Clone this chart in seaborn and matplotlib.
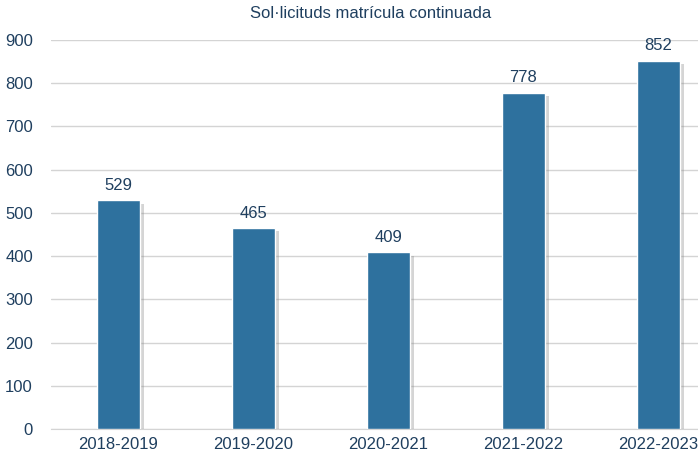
import matplotlib
matplotlib.use("Agg")
import matplotlib.pyplot as plt
import matplotlib.patheffects as pe
import seaborn as sns
import pandas as pd

cursos = ["2018-2019", "2019-2020", "2020-2021", "2021-2022", "2022-2023"]
sollicituds = [529, 465, 409, 778, 852]

df = pd.DataFrame({"curs": cursos, "n": sollicituds})

sns.set_style("white")
plt.rcParams["font.family"] = ["Liberation Sans", "DejaVu Sans"]
text_col = "#1f3f5f"

fig = plt.figure(figsize=(6.98, 4.59), dpi=100)
ax = fig.add_axes([51 / 698, 1 - 429 / 459, 675 / 698, (429 - 40) / 459])

sns.barplot(data=df, x="curs", y="n", color="#2e719e", width=0.32,
            saturation=1, ax=ax, zorder=3)
for p in ax.patches:
    p.set_path_effects([pe.SimplePatchShadow(offset=(2.5, -2.5), shadow_rgbFace="#888888", alpha=0.35),
                        pe.Normal()])

for i, v in enumerate(sollicituds):
    ax.text(i, v + 17, str(v), ha="center", va="bottom", fontsize=12, color=text_col)

ax.set_ylim(0, 900)
ax.set_yticks(range(0, 901, 100))
ax.yaxis.grid(True, color="#d4d4d4", linewidth=1, zorder=0)
ax.set_axisbelow(True)
for s in ["top", "right", "left"]:
    ax.spines[s].set_visible(False)
ax.spines["bottom"].set_color("#d4d4d4")
ax.tick_params(axis="both", length=0, labelsize=12, labelcolor=text_col)
ax.tick_params(axis="y", pad=13)
ax.tick_params(axis="x", pad=6)
ax.set_xlabel("")
ax.set_ylabel("")

fig.text(371 / 698, 1 - 14 / 459, "Sol·licituds matrícula continuada", ha="center", va="center",
         fontsize=12, color=text_col)

fig.savefig("out.png", dpi=100)
